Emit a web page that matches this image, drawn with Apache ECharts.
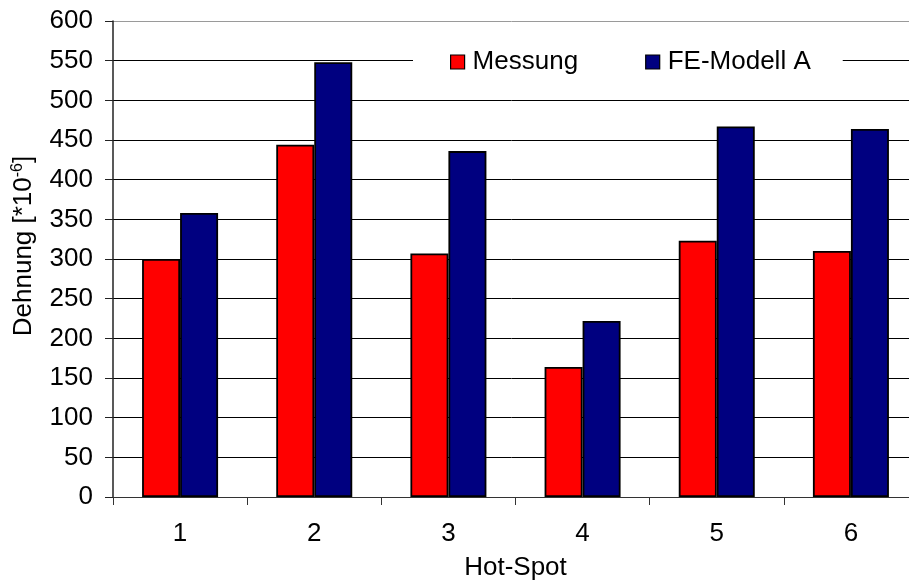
<!DOCTYPE html>
<html>
<head>
<meta charset="utf-8">
<script src="https://cdn.jsdelivr.net/npm/echarts@6/dist/echarts.min.js"></script>
<style>
  html, body { margin: 0; padding: 0; background: #fff; }
  #chart { width: 909px; height: 583px; }
</style>
</head>
<body>
<div id="chart"></div>
<script>
// Hot-spot categories and strain values (µm/m)
const hotSpots = ['1', '2', '3', '4', '5', '6'];
const messung = [300, 444, 307, 164, 323, 310];
const feModellA = [358, 548, 436, 222, 467, 464];
const seriesNames = ['Messung', 'FE-Modell A'];
const yTicks = { min: 0, max: 600, interval: 50 };

const FONT = '"Liberation Sans", Arial, sans-serif';
const FS = 26;
const chart = echarts.init(document.getElementById('chart'), null, { renderer: 'canvas' });

// Gridlines are black, the topmost one forms the grey plot border
const nLines = (yTicks.max - yTicks.min) / yTicks.interval + 1;
const gridColors = Array.from({ length: nLines }, (_, i) => (i === nLines - 1 ? '#9a9a9a' : '#000'));

chart.setOption({
  animation: false,
  backgroundColor: '#fff',
  textStyle: { fontFamily: FONT },
  grid: {
    left: 113, top: 21, right: -9, bottom: 86,
    containLabel: false, outerBoundsMode: 'none'
  },
  legend: {
    data: seriesNames,
    left: 413, top: 41,
    padding: [8, 32, 8, 37],
    backgroundColor: '#fff',
    itemWidth: 14, itemHeight: 14,
    itemGap: 67,
    icon: 'rect',
    itemStyle: { borderColor: '#000', borderWidth: 1.2 },
    textStyle: { fontFamily: FONT, fontSize: FS, color: '#000', padding: [0, 0, 0, 3] }
  },
  xAxis: {
    type: 'category',
    data: hotSpots,
    boundaryGap: true,
    name: 'Hot-Spot',
    nameLocation: 'middle',
    nameGap: 58,
    nameTextStyle: { fontFamily: FONT, fontSize: FS, color: '#000' },
    axisLine: { lineStyle: { color: '#333', width: 1 } },
    axisTick: { show: true, length: 8, lineStyle: { color: '#333' }, alignWithLabel: false },
    axisLabel: { fontFamily: FONT, fontSize: FS, color: '#000', margin: 24 },
    splitLine: { show: false }
  },
  yAxis: {
    type: 'value',
    min: yTicks.min, max: yTicks.max, interval: yTicks.interval,
    axisLine: { show: true, lineStyle: { color: '#222', width: 1.5 } },
    axisTick: { show: true, length: 8, lineStyle: { color: '#222' } },
    axisLabel: { fontFamily: FONT, fontSize: FS, color: '#000', margin: 20 },
    splitLine: { show: true, lineStyle: { color: gridColors, width: 1 } }
  },
  graphic: [{
    type: 'text',
    x: 24, y: 246,
    rotation: Math.PI / 2,
    style: {
      text: 'Dehnung [*10{sup|-6}]',
      font: FS + 'px ' + FONT,
      fill: '#000',
      align: 'center',
      verticalAlign: 'middle',
      rich: {
        sup: { fontSize: 16, fontFamily: FONT, fill: '#000', padding: [0, 0, 12, 0] }
      }
    }
  }],
  series: [
    {
      name: seriesNames[0],
      type: 'bar',
      data: messung,
      barWidth: 38,
      barGap: '0%',
      itemStyle: { color: '#ff0000', borderColor: '#000', borderWidth: 1.8 }
    },
    {
      name: seriesNames[1],
      type: 'bar',
      data: feModellA,
      barWidth: 38,
      barGap: '0%',
      itemStyle: { color: '#000080', borderColor: '#000', borderWidth: 1.8 }
    }
  ]
});
</script>
</body>
</html>
